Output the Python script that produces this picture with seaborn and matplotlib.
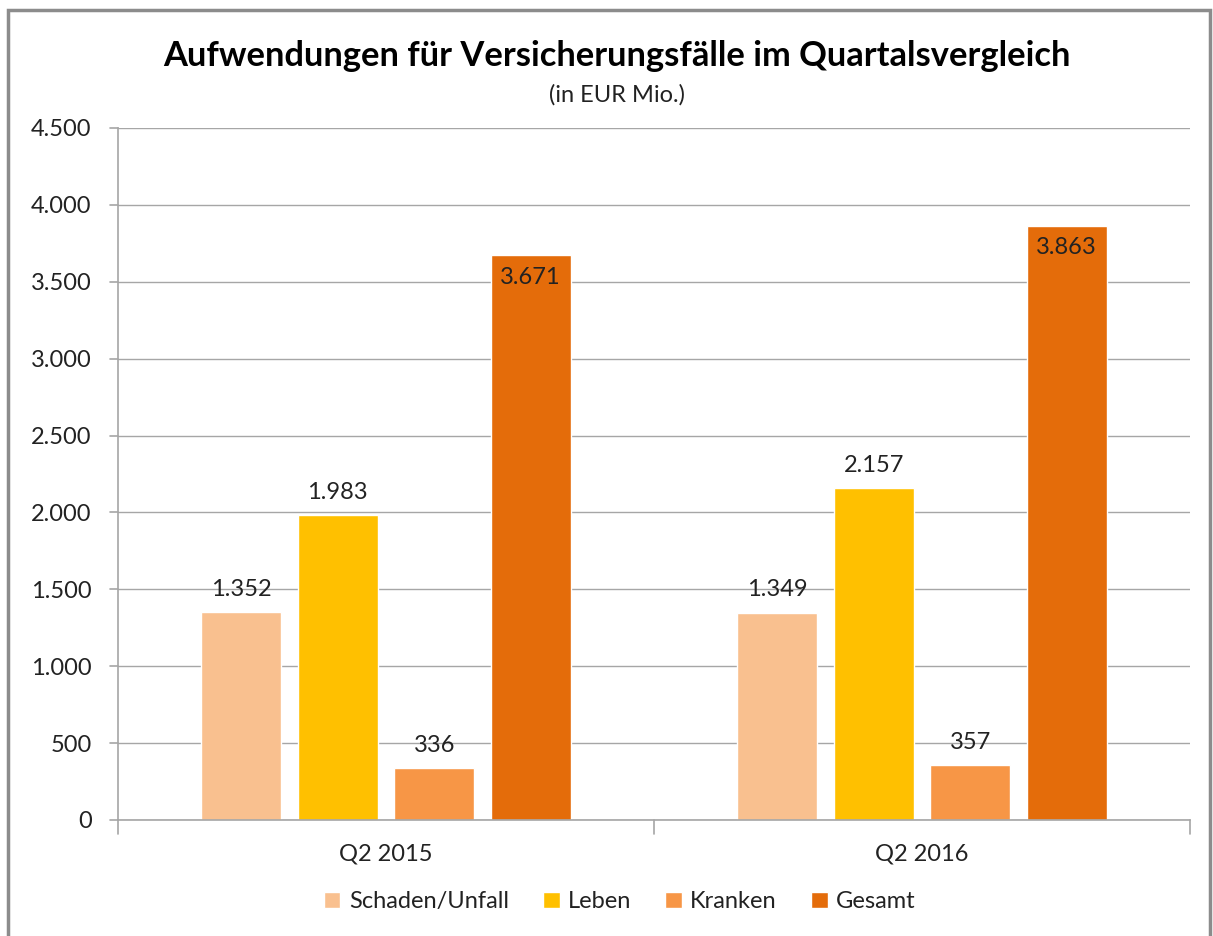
import matplotlib
matplotlib.use("Agg")
import matplotlib.pyplot as plt
import seaborn as sns
import pandas as pd
from matplotlib.patches import Rectangle

quarters = ["Q2 2015", "Q2 2016"]
series = ["Schaden/Unfall", "Leben", "Kranken", "Gesamt"]
schaden = [1352, 1349]
leben = [1983, 2157]
kranken = [336, 357]
gesamt = [3671, 3863]
colors = ["#F9C08F", "#FFC000", "#F79646", "#E46C0A"]
yticks = [0, 500, 1000, 1500, 2000, 2500, 3000, 3500, 4000, 4500]
ytick_labels = ["0", "500", "1.000", "1.500", "2.000", "2.500", "3.000", "3.500", "4.000", "4.500"]
title = "Aufwendungen für Versicherungsfälle im Quartalsvergleich"
subtitle = "(in EUR Mio.)"

rows = []
for s, vals in zip(series, [schaden, leben, kranken, gesamt]):
    for q, v in zip(quarters, vals):
        rows.append({"Quartal": q, "Sparte": s, "Wert": v})
df = pd.DataFrame(rows)

sns.set_theme(style="white")
plt.rcParams['font.family'] = ['Lato', 'DejaVu Sans']

FS = 17
fig = plt.figure(figsize=(12.13, 9.36), dpi=100)
ax = fig.add_axes([118/1213, 1-820/936, (1190-118)/1213, (820-128)/936])

sns.barplot(data=df, x="Quartal", y="Wert", hue="Sparte", hue_order=series,
            order=quarters, palette=colors, width=0.72, gap=0.17,
            saturation=1, ax=ax, legend=True)

ax.set_xlim(-0.5, 1.5)
ax.set_ylim(0, 4500)
ax.set_yticks(yticks)
ax.set_yticklabels(ytick_labels, fontsize=FS, color="#222222")
ax.set_xticks([0, 1])
ax.set_xticklabels(quarters, fontsize=FS, color="#222222")
ax.tick_params(axis="x", length=0, pad=17)
ax.tick_params(axis="y", length=0, pad=19)
ax.set_xlabel("")
ax.set_ylabel("")
ax.yaxis.grid(True, color="#A6A6A6", linewidth=1)
ax.set_axisbelow(True)
for sp in ["top", "right"]:
    ax.spines[sp].set_visible(False)
for sp in ["left", "bottom"]:
    ax.spines[sp].set_color("#A6A6A6")
    ax.spines[sp].set_linewidth(1.2)

for xb in [-0.5, 0.5, 1.5]:
    ax.plot([xb, xb], [0, -0.02], transform=ax.get_xaxis_transform(),
            color="#A6A6A6", linewidth=1.2, clip_on=False)
for yv in yticks:
    ax.plot([-0.007, 0], [yv, yv], transform=ax.get_yaxis_transform(),
            color="#A6A6A6", linewidth=1.2, clip_on=False)

for container, s in zip(ax.containers, series):
    for bar in container:
        h = bar.get_height()
        x = bar.get_x() + bar.get_width()/2
        lab = f"{int(round(h)):,}".replace(",", ".")
        if s == "Gesamt":
            ax.annotate(lab, (x, h), xytext=(0, -8), textcoords="offset points",
                        ha="center", va="top", fontsize=FS, color="#222222")
        else:
            ax.annotate(lab, (x, h), xytext=(0, 9), textcoords="offset points",
                        ha="center", va="bottom", fontsize=FS, color="#222222")

leg = ax.legend(loc="center", bbox_to_anchor=(0.468, -0.118), ncol=4, frameon=False,
                fontsize=FS, handlelength=0.7, handleheight=0.7, handletextpad=0.35,
                columnspacing=1.45)
for t in leg.get_texts():
    t.set_color("#222222")

fig.text(617/1213, 1-56/936, title, ha="center", va="center", fontsize=24.8,
         fontweight="bold", color="black")
fig.text(617/1213, 1-95/936, subtitle, ha="center", va="center", fontsize=17,
         color="#222222")

fig.patches.append(Rectangle((8/1213, -0.01), (1210-8)/1213, (926)/936 + 0.01,
                             transform=fig.transFigure, fill=False,
                             edgecolor="#8C8C8C", linewidth=2.5))

fig.savefig("out.png", dpi=100)
